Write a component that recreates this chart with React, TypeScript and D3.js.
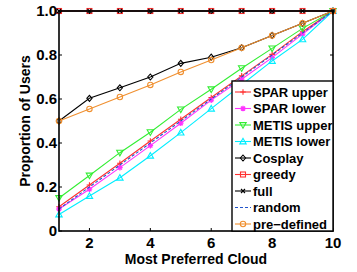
import * as d3 from 'd3'

const clouds = [1, 2, 3, 4, 5, 6, 7, 8, 9, 10]
const sparUpper = [0.11, 0.209, 0.308, 0.409, 0.508, 0.607, 0.705, 0.803, 0.906, 1.0]
const sparLower = [0.1, 0.19, 0.288, 0.388, 0.49, 0.595, 0.69, 0.788, 0.895, 1.0]
const metisUpper = [0.15, 0.252, 0.356, 0.449, 0.553, 0.644, 0.74, 0.83, 0.921, 1.0]
const metisLower = [0.075, 0.159, 0.242, 0.342, 0.447, 0.556, 0.665, 0.773, 0.871, 1.0]
const cosplay = [0.5, 0.603, 0.651, 0.7, 0.762, 0.79, 0.833, 0.889, 0.944, 1.0]
const greedy = [1, 1, 1, 1, 1, 1, 1, 1, 1, 1]
const full = [1, 1, 1, 1, 1, 1, 1, 1, 1, 1]
const random = [0.1, 0.2, 0.3, 0.4, 0.5, 0.6, 0.7, 0.8, 0.9, 1.0]
const preDefined = [0.5, 0.555, 0.609, 0.664, 0.723, 0.777, 0.833, 0.889, 0.944, 1.0]

const xTicks = [2, 4, 6, 8, 10]
const yTicks = [0, 0.2, 0.4, 0.6, 0.8, 1.0]

type Marker = 'plus' | 'star' | 'tdown' | 'tup' | 'diamond' | 'square' | 'cross' | 'none' | 'circle'

type Series = { name: string; values: number[]; color: string; marker: Marker; dash?: string }

const series: Series[] = [
  { name: 'SPAR upper', values: sparUpper, color: '#ff3030', marker: 'plus' },
  { name: 'SPAR lower', values: sparLower, color: '#ff33ff', marker: 'star' },
  { name: 'METIS upper', values: metisUpper, color: '#33ee33', marker: 'tdown' },
  { name: 'METIS lower', values: metisLower, color: '#00eeff', marker: 'tup' },
  { name: 'Cosplay', values: cosplay, color: '#000000', marker: 'diamond' },
  { name: 'greedy', values: greedy, color: '#ff3030', marker: 'square' },
  { name: 'full', values: full, color: '#000000', marker: 'cross' },
  { name: 'random', values: random, color: '#2255cc', marker: 'none', dash: '3 2' },
  { name: 'pre\u2212defined', values: preDefined, color: '#f09030', marker: 'circle' },
]

function MarkerShape({ kind, x, y, color }: { kind: Marker; x: number; y: number; color: string }) {
  const s = 2.8
  const common = { fill: 'none', stroke: color, strokeWidth: 1.1 }
  switch (kind) {
    case 'plus':
      return <path d={`M${x - s},${y}H${x + s}M${x},${y - s}V${y + s}`} {...common} />
    case 'star':
      return (
        <path
          d={`M${x - s},${y}H${x + s}M${x},${y - s}V${y + s}M${x - 2},${y - 2}L${x + 2},${y + 2}M${x - 2},${y + 2}L${x + 2},${y - 2}`}
          {...common}
          strokeWidth={1.3}
        />
      )
    case 'tdown':
      return <path d={`M${x - 3.2},${y - 2.4}L${x + 3.2},${y - 2.4}L${x},${y + 3.2}Z`} {...common} />
    case 'tup':
      return <path d={`M${x - 3.2},${y + 2.4}L${x + 3.2},${y + 2.4}L${x},${y - 3.2}Z`} {...common} />
    case 'diamond':
      return <path d={`M${x},${y - 3}L${x + 2.6},${y}L${x},${y + 3}L${x - 2.6},${y}Z`} {...common} />
    case 'square':
      return <rect x={x - 2.5} y={y - 2.5} width={5} height={5} {...common} />
    case 'cross':
      return <path d={`M${x - 2},${y - 2}L${x + 2},${y + 2}M${x - 2},${y + 2}L${x + 2},${y - 2}`} {...common} />
    case 'circle':
      return <circle cx={x} cy={y} r={2.7} {...common} />
    default:
      return null
  }
}

export default function App() {
  const width = 357
  const height = 272
  const left = 59
  const right = 333
  const top = 11
  const bottom = 231

  const x = d3.scaleLinear().domain([1, 10]).range([left, right])
  const y = d3.scaleLinear().domain([0, 1]).range([bottom, top])
  const line = d3
    .line<number>()
    .x((_, i) => x(clouds[i]))
    .y((d) => y(d))

  const font = 'Liberation Sans, Arial, Helvetica, sans-serif'
  const legX = 232
  const legY = 81
  const legW = right - legX
  const legH = bottom - legY
  const rowH = 16.5

  return (
    <svg
      width={width}
      height={height}
      style={{ position: 'absolute', left: 0, top: 0, background: '#fff' }}
      fontFamily={font}
      fontWeight="bold"
    >
      {series.map((s) => (
        <g key={s.name}>
          <path d={line(s.values) ?? ''} fill="none" stroke={s.color} strokeWidth={1.1} strokeDasharray={s.dash} />
          {s.values.map((v, i) => (
            <MarkerShape key={i} kind={s.marker} x={x(clouds[i])} y={y(v)} color={s.color} />
          ))}
        </g>
      ))}

      {/* ticks, inward on all four sides */}
      {xTicks.map((t) => (
        <g key={`xt${t}`} stroke="#000" strokeWidth={1}>
          <line x1={x(t)} x2={x(t)} y1={bottom} y2={bottom - 3} />
          <line x1={x(t)} x2={x(t)} y1={top} y2={top + 3} />
        </g>
      ))}
      {yTicks.map((t) => (
        <g key={`yt${t}`} stroke="#000" strokeWidth={1}>
          <line x1={left} x2={left + 3} y1={y(t)} y2={y(t)} />
          <line x1={right} x2={right - 3} y1={y(t)} y2={y(t)} />
        </g>
      ))}
      <rect x={left} y={top} width={right - left} height={bottom - top} fill="none" stroke="#000" strokeWidth={1.6} />

      {xTicks.map((t) => (
        <text key={`xl${t}`} x={x(t)} y={248} textAnchor="middle" fontSize={15}>
          {t}
        </text>
      ))}
      {yTicks.map((t) => (
        <text key={`yl${t}`} x={left - 2} y={y(t) + 5} textAnchor="end" fontSize={15}>
          {t === 0 ? '0' : t.toFixed(1)}
        </text>
      ))}
      <text x={196} y={264} textAnchor="middle" fontSize={14}>
        Most Preferred Cloud
      </text>
      <text transform={`translate(30,${(top + bottom) / 2}) rotate(-90)`} textAnchor="middle" fontSize={14}>
        Proportion of Users
      </text>

      {/* legend */}
      <rect x={legX} y={legY} width={legW} height={legH} fill="#fff" stroke="#000" strokeWidth={1.4} />
      {series.map((s, i) => {
        const cy = legY + 11 + i * rowH
        return (
          <g key={`lg${s.name}`}>
            <line x1={235} x2={251} y1={cy} y2={cy} stroke={s.color} strokeWidth={1.1} strokeDasharray={s.dash} />
            <MarkerShape kind={s.marker} x={243} y={cy} color={s.color} />
            <text x={253} y={cy + 4.5} fontSize={13}>
              {s.name}
            </text>
          </g>
        )
      })}
    </svg>
  )
}
